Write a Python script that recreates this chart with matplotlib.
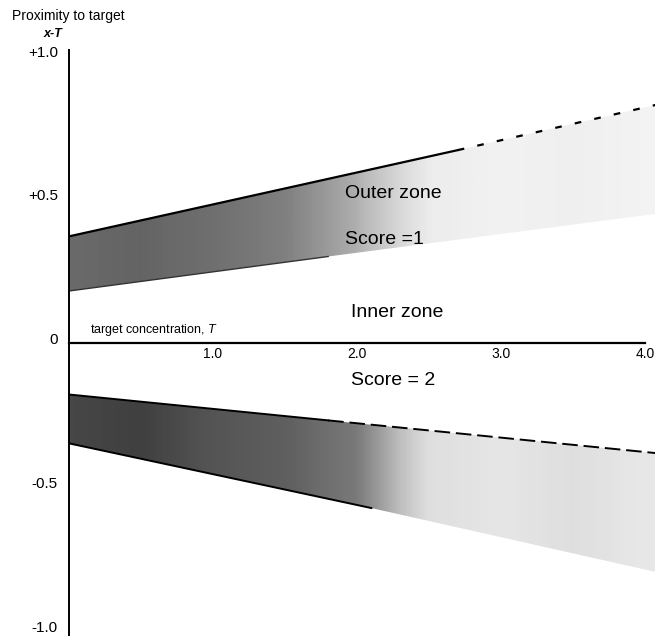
import numpy as np
import matplotlib
matplotlib.use('Agg')
import matplotlib.pyplot as plt
import matplotlib.transforms as mtransforms

plt.rcParams['font.family'] = ['Liberation Sans', 'DejaVu Sans']
plt.rcParams['mathtext.fontset'] = 'custom'
plt.rcParams['mathtext.it'] = 'Liberation Sans:italic'
plt.rcParams['mathtext.rm'] = 'Liberation Sans'

# band edges (x = target concentration T, y = x - T)
upper_outer_T = [0.0, 2.7, 4.1]
upper_outer = [0.37, 0.67, 0.83]
upper_inner_T = [0.0, 1.8, 4.1]
upper_inner = [0.18, 0.30, 0.45]

lower_inner_T = [0.0, 1.8, 4.1]
lower_inner = [-0.18, -0.27, -0.385]
lower_outer_T = [0.0, 2.1, 4.1]
lower_outer = [-0.35, -0.575, -0.80]

# how dense the stipple looks, sampled every 0.5 along T
shade_T = [0.0, 0.5, 1.0, 1.5, 2.0, 2.5, 3.0, 3.5, 4.0]
upper_shade = [0.66, 0.68, 0.64, 0.58, 0.42, 0.15, 0.11, 0.13, 0.10]
lower_shade = [0.78, 0.80, 0.74, 0.70, 0.60, 0.22, 0.18, 0.22, 0.17]

x_ticks = [1.0, 2.0, 3.0, 4.0]
x_ticklabels = ['1.0', '2.0', '3.0', '4.0']
y_ticks = [1.0, 0.5, 0.0, -0.5, -1.0]
y_ticklabels = ['+1.0', '+0.5', '0', '-0.5', '-1.0']

W, H = 655, 636
fig = plt.figure(figsize=(W / 100, H / 100), dpi=100)
ax = fig.add_axes([69 / W, 0.0, (W - 69) / W, (635.8 - 49.3) / H])


def shaded_band(T_in, y_in, T_out, y_out, shade):
    verts = list(zip(T_in, y_in)) + list(zip(T_out[::-1], y_out[::-1]))
    poly = plt.Polygon(verts, closed=True, facecolor='none', edgecolor='none')
    ax.add_patch(poly)
    step = shade_T[1] - shade_T[0]
    im = ax.imshow(np.array([shade]), cmap='Greys', vmin=0, vmax=1,
                   aspect='auto', interpolation='bilinear',
                   extent=[shade_T[0] - step / 2, shade_T[-1] + step / 2, -1, 1],
                   zorder=1)
    im.set_clip_path(poly)


shaded_band(upper_inner_T, upper_inner, upper_outer_T, upper_outer, upper_shade)
shaded_band(lower_inner_T, lower_inner, lower_outer_T, lower_outer, lower_shade)
ax.set_xlim(0, 4.07)
ax.set_ylim(-1.02, 1.02)

# dark edges of the bands
ax.plot(upper_outer_T[:2], upper_outer[:2], color='black', lw=1.6, zorder=2)
ax.plot(upper_outer_T[1:], upper_outer[1:], color='black', lw=1.6,
        dashes=(3, 6), zorder=2)
ax.plot(upper_inner_T[:2], upper_inner[:2], color='#333333', lw=1.0, zorder=2)
ax.plot(lower_inner_T[:2], lower_inner[:2], color='black', lw=1.4, zorder=2)
ax.plot(lower_inner_T[1:], lower_inner[1:], color='black', lw=1.4,
        dashes=(8, 3), zorder=2)
ax.plot(lower_outer_T[:2], lower_outer[:2], color='black', lw=1.4, zorder=2)

# axes
for side in ['top', 'right']:
    ax.spines[side].set_visible(False)
ax.spines['bottom'].set_position(('data', 0))
ax.spines['bottom'].set_bounds(0, 4.0)
ax.spines['bottom'].set_linewidth(1.6)
ax.spines['left'].set_linewidth(1.4)
ax.spines['bottom'].set_zorder(3)

ax.set_xticks(x_ticks)
ax.set_xticklabels(x_ticklabels, fontsize=10)
ax.set_yticks(y_ticks)
ax.set_yticklabels(y_ticklabels, fontsize=11)
ax.tick_params(axis='x', length=0, pad=3)
ax.tick_params(axis='y', length=0, pad=8)
# the printed y labels sit a little above their tick values
lift = mtransforms.ScaledTranslation(0, 0.04, fig.dpi_scale_trans)
for lab in ax.get_yticklabels():
    lab.set_transform(lab.get_transform() + lift)

# labels
ax.text(0.146, 0.043, 'target concentration, $T$', fontsize=9, va='center', ha='left')
ax.text(2.28, 0.106, 'Inner zone', fontsize=14, va='center', ha='center')
ax.text(1.92, 0.52, 'Outer zone', fontsize=14, va='center', ha='left', zorder=4)
ax.text(1.92, 0.36, 'Score =1', fontsize=14, va='center', ha='left', zorder=4)
ax.text(2.25, -0.13, 'Score = 2', fontsize=14, va='center', ha='center')

fig.text(12 / W, 1 - 16 / H, 'Proximity to target', fontsize=10, va='center', ha='left')
fig.text(53 / W, 1 - 34 / H, 'x-T', fontsize=9, style='italic', fontweight='bold',
         va='center', ha='center')

plt.savefig('out.png', dpi=100)
